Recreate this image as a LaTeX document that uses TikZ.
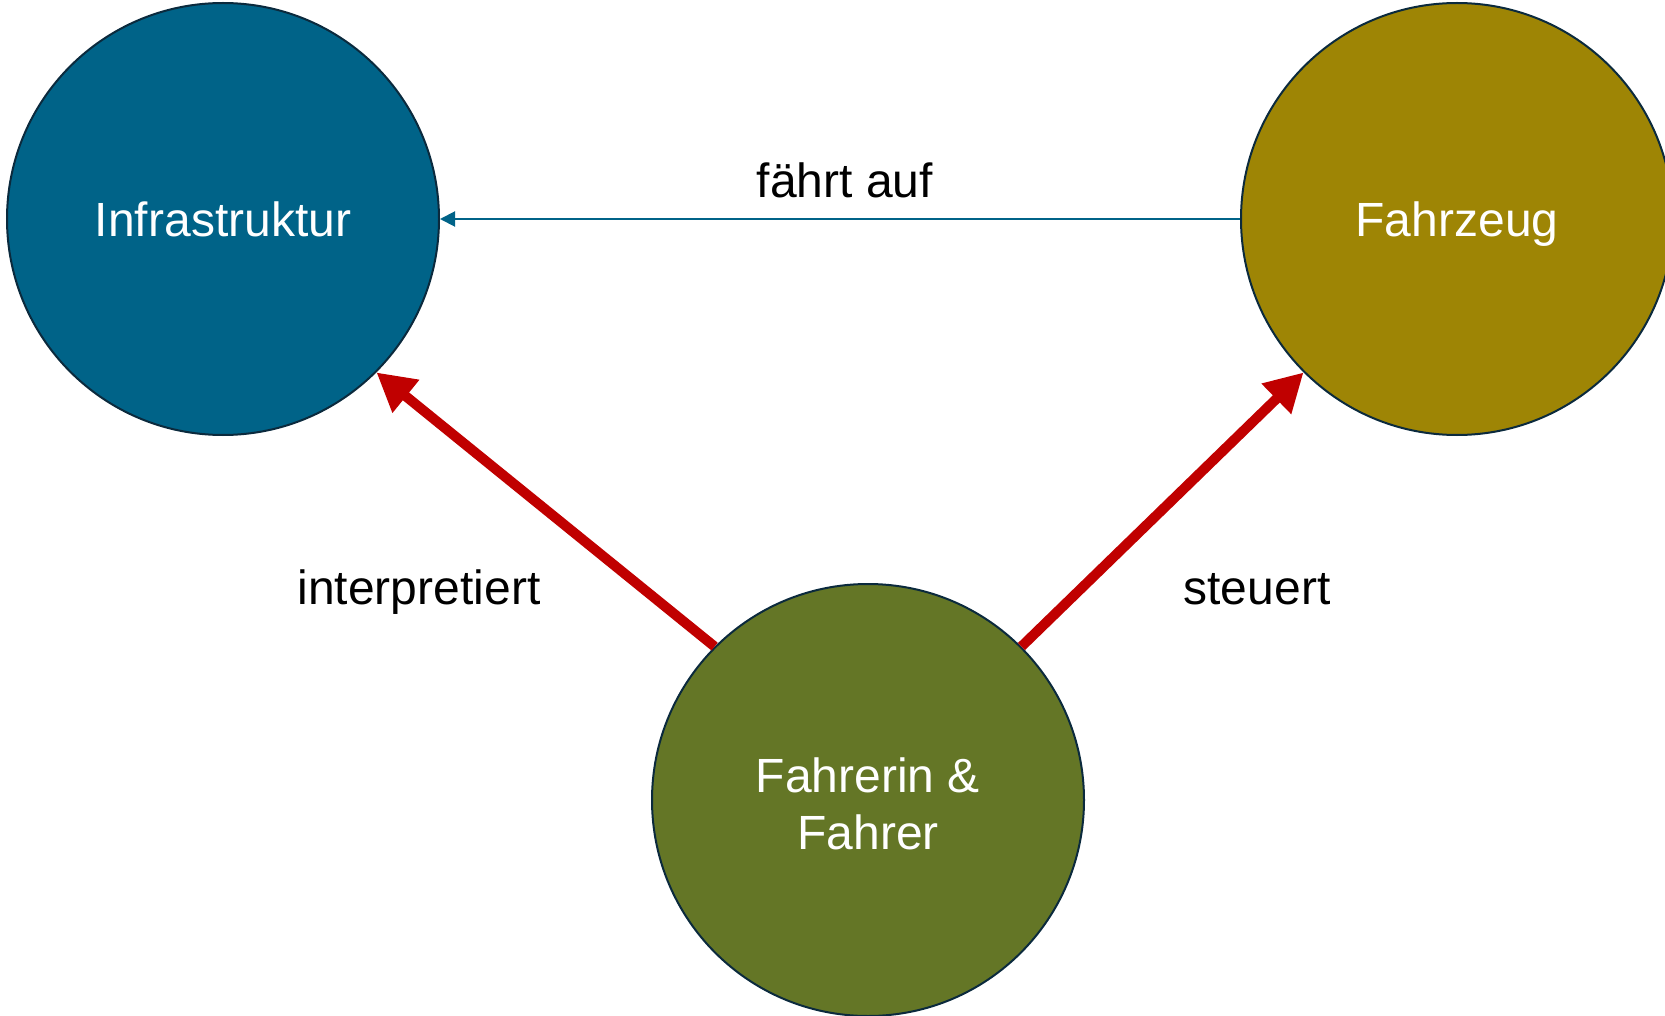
\documentclass[tikz,border=0pt]{standalone}
\usepackage{fontspec}
\setmainfont{Liberation Sans}
\usetikzlibrary{arrows.meta}
\definecolor{infra}{HTML}{006388}
\definecolor{fzg}{HTML}{9E8505}
\definecolor{fahrer}{HTML}{647626}
\definecolor{rim}{HTML}{0B2A3D}
\definecolor{arrred}{HTML}{C00000}
\tikzset{
  bubble/.style={circle, draw=rim, line width=2pt, minimum size=432pt, inner sep=0pt,
    text=white, align=center, font=\fontsize{48}{57}\selectfont},
  lbl/.style={text=black, font=\fontsize{48}{57}\selectfont, inner sep=0pt},
  redarrow/.style={draw=arrred, line width=10pt, -{Triangle[length=38pt, width=40pt]}},
  bluearrow/.style={draw=infra, line width=2pt, -{Triangle[length=15pt, width=15pt]}}
}
\begin{document}
\begin{tikzpicture}[x=1pt,y=-1pt]
\useasboundingbox (0,0) rectangle (1665,1016);
\node[bubble, fill=infra] (infra) at (223,219) {Infrastruktur};
\node[bubble, fill=fzg, text depth=0pt] (fzg) at (1457,219) {Fahrzeug};
\node[bubble, fill=fahrer, align=none] (fahrer) at (868,800)
  {\raisebox{-16pt}[0pt][0pt]{\begin{tabular}{@{}c@{}}Fahrerin \&\\Fahrer\end{tabular}}};
\draw[bluearrow] (fzg.west) -- (infra.east);
\draw[redarrow] (fahrer.135) -- (infra.-45);
\draw[redarrow] (fahrer.45) -- (fzg.-135);
\node[lbl] (l1) at (845,180) {fährt auf};
\node[lbl] (l2) at (419,592) {interpretiert};
\node[lbl] (l3) at (1257,589) {steuert};
\end{tikzpicture}
\end{document}
